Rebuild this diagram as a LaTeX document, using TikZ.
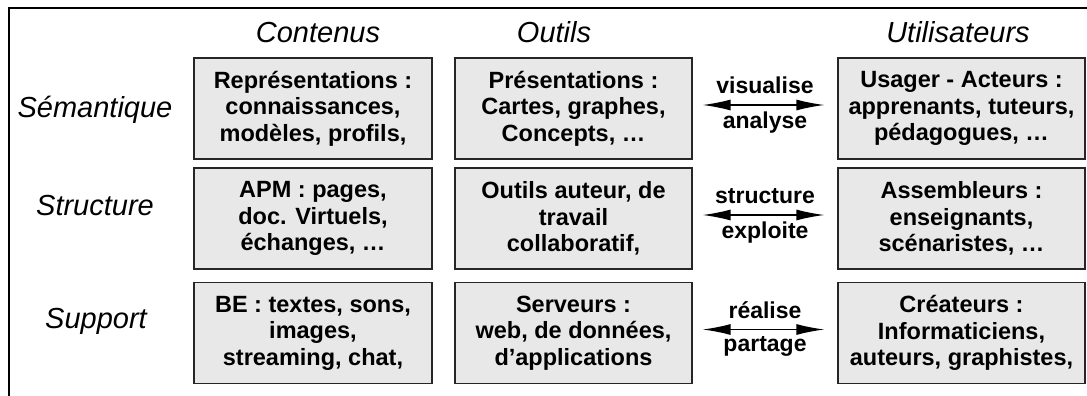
\documentclass[tikz,border=0pt]{standalone}
\usepackage{fontspec}
\setmainfont{Liberation Sans}
\usetikzlibrary{arrows.meta}

\tikzset{
  cadre/.style = {draw = black!85, line width = 1.2pt, fill = black!9, minimum height = 101pt,
                  align = center, inner sep = 0pt, font = \fontsize{23.5}{26.5}\selectfont\bfseries},
  titre/.style = {font = \fontsize{29}{32}\selectfont\itshape, anchor = base},
  verbe/.style = {font = \fontsize{23}{26}\selectfont\bfseries},
  lien/.style = {<->, line width = 1.5pt, shorten < = 10pt, shorten > = 13pt}
}

\begin{document}
\begin{tikzpicture}[x = 1pt, y = -1pt, >= {Latex[length = 28pt, width = 11pt]}]
        \useasboundingbox (0, 0) rectangle (1087, 396);
        \draw[line width = 1.5pt] (9, 396) -- (9, 8) -- (1087, 8);
        % titres des colonnes
        \node[titre] (tcont) at (318, 43) {Contenus};
        \node[titre] (tout) at (554, 43) {Outils};
        \node[titre] (tutil) at (958, 43) {Utilisateurs};
        % titres des lignes
        \node[titre] (tsem) at (95, 117) {Sémantique};
        \node[titre] (tstr) at (95, 215) {Structure};
        \node[titre] (tsup) at (96, 328) {Support};
        % boites
        \node[cadre, minimum width = 238pt] (cont1) at (313, 108.5) {Représentations :\\connaissances,\\modèles, profils,};
        \node[cadre, minimum width = 238pt] (cont2) at (313, 218.5) {APM : pages,\\doc. Virtuels,\\échanges, …};
        \node[cadre, minimum width = 238pt] (cont3) at (313, 333) {BE : textes, sons,\\images,\\streaming, chat,};
        \node[cadre, minimum width = 237pt] (out1) at (573.5, 108.5) {Présentations :\\Cartes, graphes,\\Concepts, …};
        \node[cadre, minimum width = 237pt] (out2) at (573.5, 218.5) {Outils auteur, de\\travail\\collaboratif,};
        \node[cadre, minimum width = 237pt] (out3) at (573.5, 333) {Serveurs :\\web, de données,\\d’applications};
        \node[cadre, minimum width = 247pt] (util1) at (961.5, 108.5) {Usager - Acteurs :\\apprenants, tuteurs,\\pédagogues, …};
        \node[cadre, minimum width = 247pt] (util2) at (961.5, 218.5) {Assembleurs :\\enseignants,\\scénaristes, …};
        \node[cadre, minimum width = 247pt] (util3) at (961.5, 333) {Créateurs :\\Informaticiens,\\auteurs, graphistes,};
        % fleches
        \draw[lien] ([yshift = 3.5pt]out1.east) -- ([yshift = 3.5pt]util1.west)
          node[verbe, midway, above = 7pt] (v1) {visualise} node[verbe, midway, below = 2.5pt] (a1) {analyse};
        \draw[lien] ([yshift = 3.5pt]out2.east) -- ([yshift = 3.5pt]util2.west)
          node[verbe, midway, above = 7pt] (v2) {structure} node[verbe, midway, below = 2.5pt] (a2) {exploite};
        \draw[lien] ([yshift = 3.5pt]out3.east) -- ([yshift = 3.5pt]util3.west)
          node[verbe, midway, above = 7pt] (v3) {réalise} node[verbe, midway, below = 2.5pt] (a3) {partage};
      \end{tikzpicture}
\end{document}
